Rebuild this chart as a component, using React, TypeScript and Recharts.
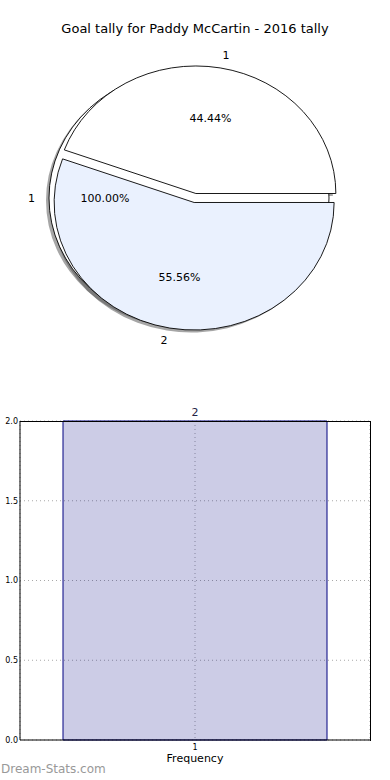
import React from "react";
import {
  PieChart,
  Pie,
  BarChart,
  Bar,
  XAxis,
  YAxis,
  CartesianGrid,
  LabelList,
} from "recharts";

// pie: goal tally split
const goalLabels = ["1", "2"];
const goalCounts = [4, 5];
const goalFills = ["#ffffff", "#eaf1fe"];

// second (full) pie drawn underneath
const fullLabels = ["1"];
const fullCounts = [1];

// bar: frequency
const freqCategories = ["1"];
const freqValues = [2];
const yTicks = [0, 0.5, 1, 1.5, 2];

const FONT = "DejaVu Sans, Verdana, sans-serif";
const RAD = Math.PI / 180;
const Y_RATIO = 0.911;

const goalData = goalLabels.map((name, i) => ({ name, value: goalCounts[i], fill: goalFills[i] }));
const fullData = fullLabels.map((name, i) => ({ name, value: fullCounts[i], fill: "#ffffff" }));
const barData = freqCategories.map((name, i) => ({ name, value: freqValues[i] }));

function ellipsePath(cx: number, cy: number, rx: number, ry: number, start: number, end: number) {
  if (Math.abs(end - start) >= 359.99) {
    return `M${cx - rx},${cy} A${rx},${ry} 0 1 0 ${cx + rx},${cy} A${rx},${ry} 0 1 0 ${cx - rx},${cy} Z`;
  }
  const x1 = cx + rx * Math.cos(start * RAD);
  const y1 = cy - ry * Math.sin(start * RAD);
  const x2 = cx + rx * Math.cos(end * RAD);
  const y2 = cy - ry * Math.sin(end * RAD);
  const large = Math.abs(end - start) > 180 ? 1 : 0;
  return `M${cx},${cy} L${x1},${y1} A${rx},${ry} 0 ${large} 0 ${x2},${y2} Z`;
}

function exploded(cx: number, cy: number, mid: number, d: number) {
  return { x: cx + d * Math.cos(mid * RAD), y: cy - d * Math.sin(mid * RAD) * Y_RATIO };
}

type Mode = "shadow" | "wedge" | "none";

function makeShape(mode: Mode, explode: number) {
  return (p: any) => {
    if (mode === "none") return <g />;
    const mid = (p.startAngle + p.endAngle) / 2;
    const c = exploded(p.cx, p.cy, mid, explode);
    const rx = p.outerRadius;
    const ry = p.outerRadius * Y_RATIO;
    if (mode === "shadow") {
      return (
        <path
          d={ellipsePath(c.x - 3, c.y + 2.5, rx, ry, p.startAngle, p.endAngle)}
          fill="#4d4d4d"
          fillOpacity={0.5}
          stroke="none"
        />
      );
    }
    return (
      <path
        d={ellipsePath(c.x, c.y, rx, ry, p.startAngle, p.endAngle)}
        fill={p.payload?.fill ?? p.fill}
        stroke="#000"
        strokeWidth={0.9}
      />
    );
  };
}

function makeLabel(values: number[], explode: number) {
  const total = values.reduce((a, b) => a + b, 0);
  return (p: any) => {
    const mid = p.midAngle;
    const c = exploded(p.cx, p.cy, mid, explode);
    const rx = p.outerRadius;
    const ry = p.outerRadius * Y_RATIO;
    const cos = Math.cos(mid * RAD);
    const sin = Math.sin(mid * RAD);
    const pct = (values[p.index] / total) * 100;
    return (
      <g>
        <text
          x={c.x + 1.1 * rx * cos}
          y={c.y - 1.1 * ry * sin}
          textAnchor={cos > 0.001 ? "start" : cos < -0.001 ? "end" : "middle"}
          dominantBaseline="central"
          fontSize={11}
          fontFamily={FONT}
          fill="#000"
        >
          {p.name}
        </text>
        <text
          x={c.x + 0.6 * rx * cos}
          y={c.y - 0.6 * ry * sin}
          textAnchor="middle"
          dominantBaseline="central"
          fontSize={11}
          fontFamily={FONT}
          fill="#000"
        >
          {pct.toFixed(2)}%
        </text>
      </g>
    );
  };
}

function PiePanel() {
  const common = {
    dataKey: "value",
    cx: 195,
    cy: 198,
    outerRadius: 140,
    startAngle: 0,
    endAngle: 360,
    isAnimationActive: false,
    labelLine: false,
    stroke: "none",
  };
  return (
    <PieChart width={390} height={370} margin={{ top: 0, right: 0, bottom: 0, left: 0 }}>
      <Pie {...common} data={fullData} shape={makeShape("shadow", 6)} inactiveShape={makeShape("shadow", 6)} />
      <Pie {...common} data={goalData} shape={makeShape("shadow", 5)} inactiveShape={makeShape("shadow", 5)} />
      <Pie {...common} data={fullData} shape={makeShape("wedge", 6)} inactiveShape={makeShape("wedge", 6)} />
      <Pie
        {...common}
        data={goalData}
        shape={makeShape("wedge", 5)}
        inactiveShape={makeShape("wedge", 5)}
        label={makeLabel(goalCounts, 5)}
      />
      <Pie
        {...common}
        data={fullData}
        shape={makeShape("none", 6)}
        inactiveShape={makeShape("none", 6)}
        label={makeLabel(fullCounts, 6)}
      />
    </PieChart>
  );
}

function BarPanel() {
  const tick = { fontSize: 8, fill: "#000", fontFamily: FONT };
  return (
    <BarChart
      width={390}
      height={380}
      data={barData}
      margin={{ top: 21, right: 20, bottom: 0, left: 0 }}
    >
      <CartesianGrid stroke="#a8a8a8" strokeDasharray="1 3" />
      <XAxis
        dataKey="name"
        height={40}
        tick={tick}
        tickLine={false}
        tickSize={0}
        tickMargin={4}
        axisLine={{ stroke: "#000" }}
        label={{ value: "Frequency", position: "insideBottom", offset: 18, fontSize: 11, fill: "#000", fontFamily: FONT }}
      />
      <YAxis
        domain={[0, 2]}
        ticks={yTicks}
        width={20}
        tick={tick}
        tickLine={false}
        tickSize={0}
        tickMargin={2}
        tickFormatter={(v: number) => v.toFixed(1)}
        axisLine={{ stroke: "#000" }}
      />
      <Bar
        dataKey="value"
        barSize={264}
        fill="#000080"
        fillOpacity={0.2}
        stroke="#000080"
        strokeWidth={1}
        isAnimationActive={false}
      >
        <LabelList dataKey="value" position="top" offset={5} fontSize={11} fill="#222244" fontFamily={FONT} />
      </Bar>
    </BarChart>
  );
}

export default function App() {
  return (
    <div
      style={{
        position: "absolute",
        left: 0,
        top: 0,
        width: 390,
        height: 780,
        background: "#fff",
        fontFamily: FONT,
        overflow: "hidden",
      }}
    >
      <div
        style={{
          position: "absolute",
          top: 21,
          left: 0,
          width: 390,
          textAlign: "center",
          fontSize: 13,
          color: "#000",
        }}
      >
        Goal tally for Paddy McCartin - 2016 tally
      </div>
      <div style={{ position: "absolute", top: 0, left: 0 }}>
        <PiePanel />
      </div>
      <div style={{ position: "absolute", top: 400, left: 0 }}>
        <BarPanel />
      </div>
      {/* axes frame: top and right edges */}
      <div
        style={{
          position: "absolute",
          left: 20,
          top: 420.5,
          width: 349.5,
          height: 319,
          borderTop: "1px solid #000",
          borderRight: "1px solid #000",
          pointerEvents: "none",
        }}
      />
      <div
        style={{
          position: "absolute",
          left: 1,
          top: 762,
          fontSize: 12,
          color: "#999",
          fontFamily: FONT,
        }}
      >
        Dream-Stats.com
      </div>
    </div>
  );
}
